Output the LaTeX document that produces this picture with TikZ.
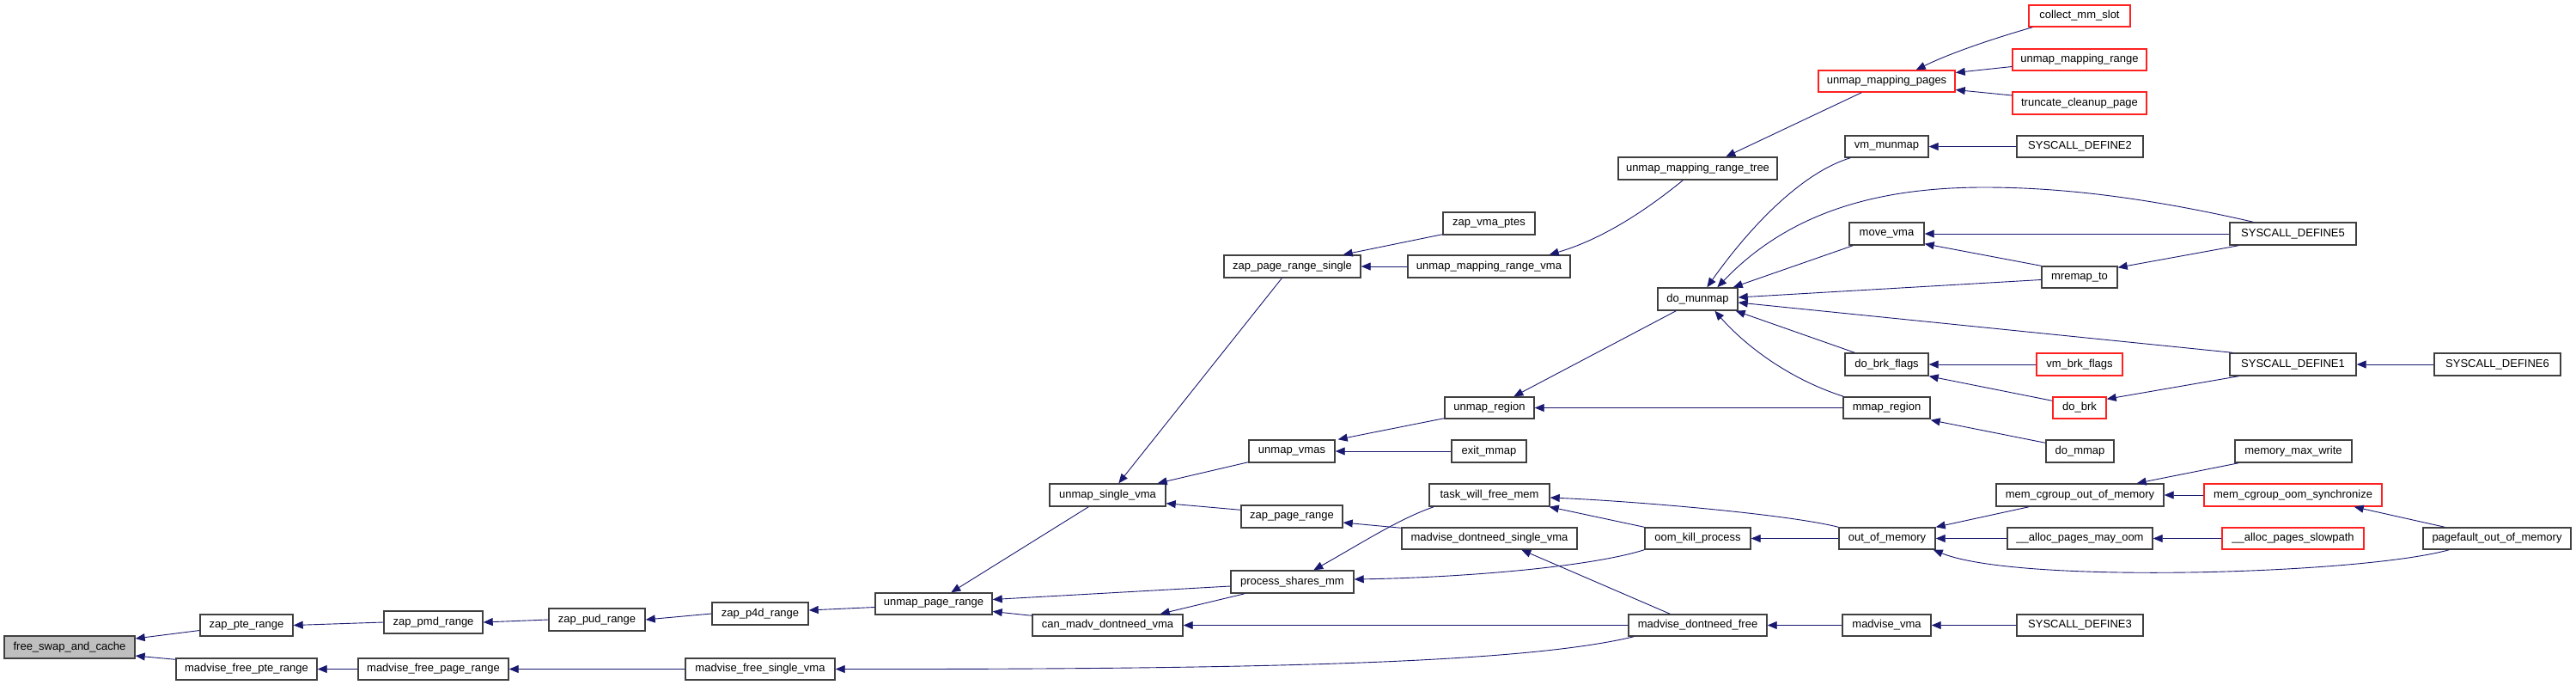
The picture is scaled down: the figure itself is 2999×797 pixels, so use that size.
\documentclass[tikz,border=0pt]{standalone}
\usepackage{fontspec}
\setmainfont{Liberation Sans}
\usetikzlibrary{arrows.meta}
\definecolor{edgecol}{HTML}{191970}
\definecolor{boxcol}{HTML}{404040}
\definecolor{rootfill}{HTML}{BFBFBF}
\definecolor{redbox}{HTML}{FF2020}
\tikzset{
  box/.style={draw=boxcol, line width=1.4pt, fill=white, inner sep=0pt, font=\fontsize{13}{15}\selectfont, text=black},
  rootbox/.style={fill=rootfill},
  redb/.style={draw=redbox},
  edge/.style={draw=edgecol, line width=0.9pt, -{Triangle[length=11pt,width=9pt]}},
}
\newcommand\gn[7][]{\node[box,#1,minimum width={(#5-#3)*1pt},minimum height={(#6-#4)*1pt}] (#2) at ({(#3+#5)/2},{(#4+#6)/2}) {#7};}
\begin{document}
\begin{tikzpicture}[x=1pt,y=-1pt]
\useasboundingbox (0,0) rectangle (2999,797);
% nodes
\gn[rootbox]{fsac}{5}{740}{157}{766}{free\_swap\_and\_cache}
\gn{zpr}{233}{715}{341}{740}{zap\_pte\_range}
\gn{mfpr}{205}{766}{369}{791}{madvise\_free\_pte\_range}
\gn{zpmd}{447}{711}{562}{737}{zap\_pmd\_range}
\gn{mfpgr}{417}{766}{592}{791}{madvise\_free\_page\_range}
\gn{zpud}{639}{708}{751}{734}{zap\_pud\_range}
\gn{zp4d}{829}{701}{941}{727}{zap\_p4d\_range}
\gn{mfsv}{798}{766}{972}{791}{madvise\_free\_single\_vma}
\gn{upr}{1019}{690}{1155}{715}{unmap\_page\_range}
\gn{usv}{1222}{563}{1357}{589}{unmap\_single\_vma}
\gn{cmdv}{1202}{715}{1377}{740}{can\_madv\_dontneed\_vma}
\gn{uv}{1454}{512}{1554}{538}{unmap\_vmas}
\gn{zpg}{1445}{588}{1563}{614}{zap\_page\_range}
\gn{psm}{1433}{664}{1576}{690}{process\_shares\_mm}
\gn{zprs}{1425}{297}{1584}{323}{zap\_page\_range\_single}
\gn{zvp}{1680}{247}{1787}{273}{zap\_vma\_ptes}
\gn{umrv}{1639}{297}{1828}{323}{unmap\_mapping\_range\_vma}
\gn{umrt}{1884}{183}{2069}{209}{unmap\_mapping\_range\_tree}
\gn{dm}{1930}{335}{2023}{361}{do\_munmap}
\gn{ur}{1682}{462}{1786}{487}{unmap\_region}
\gn{em}{1690}{512}{1777}{538}{exit\_mmap}
\gn{twfm}{1664}{563}{1804}{589}{task\_will\_free\_mem}
\gn{mdsv}{1632}{614}{1836}{639}{madvise\_dontneed\_single\_vma}
\gn{ok}{1915}{614}{2038}{639}{oom\_kill\_process}
\gn{mdf}{1896}{715}{2057}{740}{madvise\_dontneed\_free}
\gn[redb]{cms}{2362}{6}{2480}{31}{collect\_mm\_slot}
\gn[redb]{umr}{2343}{57}{2499}{82}{unmap\_mapping\_range}
\gn[redb]{ummp}{2117}{82}{2276}{107}{unmap\_mapping\_pages}
\gn[redb]{tcp}{2343}{107}{2499}{133}{truncate\_cleanup\_page}
\gn{vmm}{2148}{158}{2245}{183}{vm\_munmap}
\gn{sd2}{2348}{158}{2495}{183}{SYSCALL\_DEFINE2}
\gn{mvv}{2153}{259}{2240}{285}{move\_vma}
\gn{mrt}{2377}{310}{2465}{335}{mremap\_to}
\gn{dbf}{2148}{411}{2245}{437}{do\_brk\_flags}
\gn[redb]{vbf}{2371}{411}{2471}{437}{vm\_brk\_flags}
\gn{mr}{2146}{462}{2247}{487}{mmap\_region}
\gn[redb]{db}{2390}{462}{2452}{487}{do\_brk}
\gn{dmm}{2382}{512}{2461}{538}{do\_mmap}
\gn{mcoom}{2324}{563}{2519}{589}{mem\_cgroup\_out\_of\_memory}
\gn{oom}{2141}{614}{2253}{639}{out\_of\_memory}
\gn{apmo}{2337}{614}{2506}{639}{\_\_alloc\_pages\_may\_oom}
\gn{mv}{2145}{715}{2248}{740}{madvise\_vma}
\gn{sd3}{2348}{715}{2495}{740}{SYSCALL\_DEFINE3}
\gn{sd5}{2596}{259}{2743}{285}{SYSCALL\_DEFINE5}
\gn{sd1}{2596}{411}{2743}{437}{SYSCALL\_DEFINE1}
\gn{sd6}{2834}{411}{2981}{437}{SYSCALL\_DEFINE6}
\gn{mmw}{2602}{512}{2738}{538}{memory\_max\_write}
\gn[redb]{mcos}{2566}{563}{2773}{589}{mem\_cgroup\_oom\_synchronize}
\gn[redb]{aps}{2587}{614}{2752}{639}{\_\_alloc\_pages\_slowpath}
\gn{pfoom}{2821}{614}{2993}{639}{pagefault\_out\_of\_memory}
% edges
\draw[edge] ([shift={(0,6)}]zpr.west) -- ([shift={(0,-10)}]fsac.east);
\draw[edge] ([shift={(0,2)}]mfpr.north west) -- ([shift={(0,10)}]fsac.east);
\draw[edge] (zpmd.west) -- (zpr.east);
\draw[edge] (mfpgr.west) -- (mfpr.east);
\draw[edge] (zpud.west) -- (zpmd.east);
\draw[edge] (zp4d.west) -- (zpud.east);
\draw[edge] ([shift={(0,4)}]upr.west) -- ([shift={(0,-4)}]zp4d.east);
\draw[edge] (mfsv.west) -- (mfpgr.east);
\draw[edge] ([shift={(7,0)}]mdf.south west) .. controls (1780,770) and (1500,779) .. (mfsv.east);
\draw[edge] ([shift={(46,0)}]usv.south west) -- ([shift={(89,0)}]upr.north west);
\draw[edge] ([shift={(0,5)}]psm.west) -- ([shift={(0,-5)}]upr.east);
\draw[edge] ([shift={(0,2)}]cmdv.north west) -- ([shift={(0,9)}]upr.east);
\draw[edge] ([shift={(68,0)}]zprs.south west) -- ([shift={(81,0)}]usv.north west);
\draw[edge] ([shift={(0,-1)}]uv.south west) -- ([shift={(-10,0)}]usv.north east);
\draw[edge] ([shift={(0,6)}]zpg.north west) -- ([shift={(0,-4)}]usv.south east);
\draw[edge] ([shift={(17,0)}]psm.south west) -- ([shift={(-27,0)}]cmdv.north east);
\draw[edge] (mdf.west) -- (cmdv.east);
\draw[edge] ([shift={(0,-1)}]zvp.south west) -- ([shift={(-21,0)}]zprs.north east);
\draw[edge] (umrv.west) -- (zprs.east);
\draw[edge] ([shift={(76,0)}]umrt.south west) .. controls (1910,250) and (1860,280) .. ([shift={(-25,0)}]umrv.north east);
\draw[edge] ([shift={(51,0)}]ummp.south west) -- ([shift={(126,0)}]umrt.north west);
\draw[edge] ([shift={(5,0)}]cms.south west) .. controls (2320,45) and (2270,62) .. ([shift={(-46,0)}]ummp.north east);
\draw[edge] ([shift={(0,8)}]umr.west) -- ([shift={(0,-10)}]ummp.east);
\draw[edge] ([shift={(0,-9)}]tcp.west) -- ([shift={(0,10)}]ummp.east);
\draw[edge] ([shift={(0,-1)}]ur.south west) -- ([shift={(3,0)}]uv.north east);
\draw[edge] (em.west) -- (uv.east);
\draw[edge] ([shift={(22,0)}]dm.south west) -- ([shift={(81,0)}]ur.north west);
\draw[edge] (mr.west) -- (ur.east);
\draw[edge] ([shift={(0,1)}]mdsv.north west) -- ([shift={(0,7)}]zpg.east);
\draw[edge] ([shift={(6,0)}]twfm.south west) .. controls (1630,603) and (1585,632) .. ([shift={(97,0)}]psm.north west);
\draw[edge] (ok.south west) .. controls (1850,660) and (1700,672) .. ([shift={(0,-3)}]psm.east);
\draw[edge] (ok.north west) -- ([shift={(-1,0)}]twfm.south east);
\draw[edge] (oom.north west) .. controls (2080,598) and (1900,583) .. ([shift={(0,3)}]twfm.east);
\draw[edge] ([shift={(49,0)}]mdf.north west) -- ([shift={(140,0)}]mdsv.south west);
\draw[edge] (oom.west) -- (ok.east);
\draw[edge] (mv.west) -- (mdf.east);
\draw[edge] (sd3.west) -- (mv.east);
\draw[edge] ([shift={(7,0)}]vmm.south west) .. controls (2100,200) and (2040,260) .. ([shift={(58,0)}]dm.north west);
\draw[edge] ([shift={(28,0)}]sd5.north west) .. controls (2500,230) and (2400,218) .. (2310,218) .. controls (2180,218) and (2080,250) .. ([shift={(70,0)}]dm.north west);
\draw[edge] ([shift={(5,0)}]mvv.south west) -- ([shift={(-6,0)}]dm.north east);
\draw[edge] ([shift={(0,3)}]mrt.west) -- ([shift={(0,-2)}]dm.east);
\draw[edge] ([shift={(4,0)}]sd1.north west) -- ([shift={(0,4)}]dm.east);
\draw[edge] ([shift={(12,0)}]dbf.north west) -- ([shift={(-3,0)}]dm.south east);
\draw[edge] ([shift={(1,0)}]mr.north west) .. controls (2080,440) and (2030,400) .. ([shift={(67,0)}]dm.south west);
\draw[edge] (sd2.west) -- (vmm.east);
\draw[edge] (sd5.west) -- (mvv.east);
\draw[edge] (mrt.north west) -- ([shift={(0,-2)}]mvv.south east);
\draw[edge] ([shift={(11,0)}]sd5.south west) -- ([shift={(0,2)}]mrt.north east);
\draw[edge] (vbf.west) -- (dbf.east);
\draw[edge] ([shift={(0,5)}]db.north west) -- (dbf.south east);
\draw[edge] ([shift={(11,0)}]sd1.south west) -- ([shift={(0,3)}]db.north east);
\draw[edge] ([shift={(0,4)}]dmm.north west) -- ([shift={(0,1)}]mr.south east);
\draw[edge] (sd6.west) -- (sd1.east);
\draw[edge] ([shift={(39,0)}]mcoom.south west) -- (oom.north east);
\draw[edge] (apmo.west) -- (oom.east);
\draw[edge] ([shift={(31,0)}]pfoom.south west) .. controls (2750,668) and (2350,680) .. ([shift={(-3,0)}]oom.south east);
\draw[edge] ([shift={(5,0)}]mmw.south west) -- ([shift={(-32,0)}]mcoom.north east);
\draw[edge] (mcos.west) -- (mcoom.east);
\draw[edge] (aps.west) -- (apmo.east);
\draw[edge] ([shift={(26,0)}]pfoom.north west) -- ([shift={(-33,0)}]mcos.south east);
\end{tikzpicture}
\end{document}
